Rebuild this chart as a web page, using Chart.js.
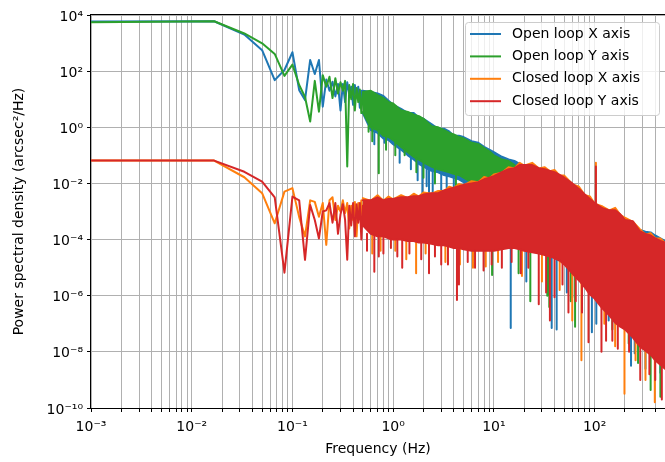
<!DOCTYPE html>
<html lang="en">
<head>
<meta charset="UTF-8">
<title>Power spectral density</title>
<script src="https://cdn.jsdelivr.net/npm/chart.js@4"></script>
<style>
  html, body { margin: 0; padding: 0; background: #fff; overflow: hidden; }
  #psdChart { display: block; }
</style>
</head>
<body>
<canvas id="psdChart" width="672" height="462"></canvas>
<script>
// low end: single FFT bins (Hz), each one visible as a corner of the line
const lowFreq = [0.001, 0.0167, 0.0333, 0.05, 0.0667, 0.0833, 0.1, 0.1167, 0.1333, 0.15, 0.1667, 0.1833, 0.2, 0.2167, 0.2333, 0.25, 0.2667, 0.2833, 0.3,
  0.3167, 0.3333, 0.35, 0.3667, 0.3833, 0.4, 0.4167, 0.4333, 0.45, 0.4667, 0.4833, 0.5];
const openXLow = [5900, 6000, 2000, 560, 48, 110, 470, 21, 9.3, 250, 79, 250, 5.4, 50, 20, 42, 12.6, 35, 4.0,
  35, 7.9, 40, 16, 28, 6.3, 32, 13, 28, 5.0, 20, 10];
const openYLow = [5500, 6000, 2200, 980, 410, 68, 170, 32, 12, 1.6, 45, 3.6, 72, 28, 63, 11, 56, 16, 40,
  20, 45, 0.04, 32, 10, 35, 4.0, 25, 7.9, 22, 3.2, 16];
const closedXLow = [0.065, 0.065, 0.0166, 0.0045, 3.8e-4, 5.1e-3, 6.8e-3, 6.3e-4, 1.3e-4, 2.5e-3, 2.2e-3, 6.5e-4, 2.0e-3, 6.5e-5, 2.5e-3, 3.2e-3, 5.0e-4, 1.6e-3, 1.0e-3,
  2.5e-3, 8.9e-4, 2.0e-3, 2.5e-4, 1.6e-3, 5.0e-4, 2.2e-3, 1.3e-4, 2.0e-3, 6.3e-4, 2.5e-3, 3.2e-4];
const closedYLow = [0.065, 0.065, 0.026, 0.0115, 3.2e-3, 6.6e-6, 3.4e-3, 2.5e-3, 1.9e-5, 1.7e-3, 5.0e-4, 1.1e-4, 1.0e-3, 1.1e-3, 2.0e-3, 4.0e-4, 2.0e-3, 1.6e-4, 7.9e-4,
  1.8e-3, 5.0e-4, 1.9e-5, 1.6e-3, 3.2e-4, 2.0e-3, 1.3e-4, 1.8e-3, 4.0e-4, 2.0e-3, 1.0e-4, 1.6e-3];

// dense part: upper and lower edge of each noisy band, read at these frequencies
const bandFreq = [0.5, 0.6, 0.7, 0.8, 0.9, 1, 1.2, 1.4, 1.6, 1.8, 2, 2.4, 2.8, 3.2, 3.6, 4, 4.5, 5, 6, 7, 8, 9, 10, 12, 14, 16, 18, 20, 24, 28, 32, 36, 40, 45, 50, 60, 70, 80, 90, 100, 120, 140, 160, 180, 200, 240, 280, 320, 360, 400, 450, 500];
const openXTop = [20, 18, 16, 13, 8.9, 6.3, 4.5, 3.2, 3.2, 2.2, 2.0, 1.3, 0.89, 0.89, 0.71, 0.5, 0.5, 0.45, 0.32, 0.28, 0.2, 0.16, 0.13, 0.089, 0.071, 0.063, 0.05, 0.035, 0.025, 0.018, 0.014, 0.013, 0.01, 7.9e-3, 6.3e-3, 5.0e-3, 3.5e-3, 2.8e-3, 2.2e-3, 1.8e-3, 1.1e-3, 8.9e-4, 7.1e-4, 5.6e-4, 4.5e-4, 3.2e-4, 2.2e-4, 1.9e-4, 1.8e-4, 1.4e-4, 1.1e-4, 8.9e-5];
const openXBottom = [3.2, 0.79, 0.63, 0.4, 0.35, 0.25, 0.16, 0.1, 0.071, 0.05, 0.04, 0.028, 0.025, 0.02, 0.018, 0.016, 0.014, 0.011, 7.9e-3, 6.3e-3, 4.5e-3, 3.2e-3, 2.0e-3, 7.9e-4, 4.0e-4, 2.0e-4, 1.3e-4, 7.9e-5, 5.6e-5, 4.5e-5, 3.5e-5, 2.8e-5, 2.2e-5, 1.8e-5, 1.4e-5, 8.9e-6, 5.6e-6, 3.5e-6, 2.2e-6, 1.4e-6, 8.9e-7, 5.6e-7, 3.5e-7, 2.2e-7, 1.4e-7, 8.9e-8, 5.6e-8, 3.5e-8, 2.2e-8, 1.4e-8, 8.9e-9, 5.6e-9];
const openYTop = [18, 20, 14, 11, 7.9, 7.1, 4.0, 3.5, 2.8, 2.5, 2.0, 1.1, 1.0, 0.79, 0.63, 0.56, 0.45, 0.4, 0.28, 0.25, 0.18, 0.14, 0.1, 0.071, 0.063, 0.045, 0.035, 0.028, 0.02, 0.016, 0.013, 0.011, 8.9e-3, 7.1e-3, 6.3e-3, 4.5e-3, 3.2e-3, 2.5e-3, 2.0e-3, 1.6e-3, 1.0e-3, 7.9e-4, 6.3e-4, 5.0e-4, 4.0e-4, 2.8e-4, 2.0e-4, 1.6e-4, 1.4e-4, 1.1e-4, 8.9e-5, 7.1e-5];
const openYBottom = [3.5, 1.0, 0.79, 0.5, 0.45, 0.35, 0.2, 0.13, 0.089, 0.071, 0.056, 0.04, 0.032, 0.028, 0.025, 0.022, 0.02, 0.016, 0.011, 8.9e-3, 6.3e-3, 4.0e-3, 2.5e-3, 1.0e-3, 5.0e-4, 2.5e-4, 1.6e-4, 1.0e-4, 6.3e-5, 5.0e-5, 4.0e-5, 3.2e-5, 2.5e-5, 2.0e-5, 1.6e-5, 1.0e-5, 6.3e-6, 4.0e-6, 2.5e-6, 1.6e-6, 1.0e-6, 6.3e-7, 4.0e-7, 2.5e-7, 1.6e-7, 1.0e-7, 6.3e-8, 4.0e-8, 2.5e-8, 1.6e-8, 1.0e-8, 6.3e-9];
const closedXTop = [3.0e-3, 2.4e-3, 3.8e-3, 2.4e-3, 3.4e-3, 2.7e-3, 3.8e-3, 3.0e-3, 4.3e-3, 3.4e-3, 4.8e-3, 4.3e-3, 5.4e-3, 5.4e-3, 7.6e-3, 6.8e-3, 9.5e-3, 8.5e-3, 0.012, 0.011, 0.017, 0.015, 0.021, 0.024, 0.038, 0.034, 0.054, 0.043, 0.054, 0.034, 0.038, 0.027, 0.030, 0.019, 0.019, 9.5e-3, 7.6e-3, 3.8e-3, 3.4e-3, 1.9e-3, 1.5e-3, 1.1e-3, 1.35e-3, 7.6e-4, 6.0e-4, 4.3e-4, 2.4e-4, 1.5e-4, 1.7e-4, 1.1e-4, 1.1e-4, 7.6e-5];
const closedXBottom = [4.0e-4, 2.0e-4, 1.6e-4, 1.6e-4, 1.4e-4, 1.3e-4, 1.3e-4, 1.1e-4, 1.1e-4, 1.0e-4, 1.0e-4, 8.9e-5, 7.9e-5, 7.9e-5, 7.1e-5, 6.3e-5, 6.3e-5, 5.6e-5, 5.0e-5, 5.0e-5, 5.0e-5, 5.0e-5, 5.0e-5, 5.6e-5, 6.3e-5, 6.3e-5, 5.6e-5, 5.0e-5, 4.5e-5, 4.0e-5, 3.5e-5, 3.2e-5, 2.8e-5, 2.2e-5, 1.6e-5, 7.9e-6, 4.5e-6, 2.5e-6, 1.4e-6, 1.0e-6, 4.5e-7, 2.5e-7, 1.4e-7, 1.0e-7, 7.9e-8, 4.0e-8, 2.0e-8, 1.4e-8, 1.0e-8, 6.3e-9, 4.5e-9, 3.2e-9];
const closedYTop = [2.5e-3, 2.5e-3, 3.2e-3, 2.5e-3, 2.8e-3, 2.8e-3, 3.2e-3, 3.2e-3, 3.5e-3, 3.5e-3, 4.0e-3, 4.5e-3, 4.5e-3, 5.6e-3, 6.3e-3, 7.1e-3, 7.9e-3, 8.9e-3, 0.01, 0.011, 0.014, 0.016, 0.018, 0.025, 0.032, 0.035, 0.045, 0.045, 0.045, 0.035, 0.032, 0.028, 0.025, 0.02, 0.016, 0.01, 6.3e-3, 4.0e-3, 2.8e-3, 2.0e-3, 1.3e-3, 1.1e-3, 1.1e-3, 7.9e-4, 5.0e-4, 4.5e-4, 2.0e-4, 1.6e-4, 1.4e-4, 1.1e-4, 8.9e-5, 7.9e-5];
const closedYBottom = [3.2e-4, 1.6e-4, 1.3e-4, 1.3e-4, 1.1e-4, 1.0e-4, 1.0e-4, 8.9e-5, 8.9e-5, 7.9e-5, 7.9e-5, 7.1e-5, 6.3e-5, 6.3e-5, 5.6e-5, 5.0e-5, 5.0e-5, 4.5e-5, 4.0e-5, 4.0e-5, 4.0e-5, 4.0e-5, 4.0e-5, 4.5e-5, 5.0e-5, 5.0e-5, 4.5e-5, 4.0e-5, 3.5e-5, 3.2e-5, 2.8e-5, 2.5e-5, 2.2e-5, 1.8e-5, 1.3e-5, 6.3e-6, 3.5e-6, 2.0e-6, 1.1e-6, 7.9e-7, 3.5e-7, 2.0e-7, 1.1e-7, 7.9e-8, 6.3e-8, 3.2e-8, 1.6e-8, 1.1e-8, 7.9e-9, 5.0e-9, 3.5e-9, 2.5e-9];

// single deep (or tall) spikes sticking out of the bands: frequency, lowest and highest value
const openXSpikeF = [0.65, 0.82, 1.16, 1.5, 1.75, 1.95, 2.15, 2.27, 2.47, 3.0, 3.4, 4.0, 5.2, 14.7, 21, 37.5, 42, 53, 60, 94, 104, 138, 230, 250, 320, 450];
const openXSpikeLo = [0.25, 0.28, 0.054, 0.032, 0.013, 3.2e-3, 7.9e-3, 4.5e-3, 2.5e-3, 5.0e-3, 7.1e-3, 4.0e-3, 5.0e-3, 7.1e-8, 3.2e-6, 7.1e-8, 6.3e-8, 1.3e-6, 8.9e-7, 5.0e-8, 1.0e-7, 1.3e-7, 3.2e-9, 8.9e-9, 2.5e-9, 1.8e-9];
const openXSpikeHi = [0.79, 0.5, 0.2, 0.1, 0.063, 0.063, 0.05, 0.04, 0.032, 0.032, 0.025, 0.016, 0.014, 5.0e-5, 5.0e-5, 2.5e-5, 2.5e-5, 1.3e-5, 7.9e-6, 1.3e-6, 7.9e-7, 3.2e-7, 5.0e-8, 4.0e-8, 1.6e-8, 5.0e-9];
const openYSpikeF = [0.57, 0.62, 0.72, 0.85, 1.05, 1.3, 1.7, 2.0, 2.6, 4.2, 9.6, 17.6, 23, 33.9, 35.5, 58, 64, 150, 218, 270, 360, 450];
const openYSpikeLo = [0.69, 0.32, 0.023, 0.16, 0.1, 0.1, 0.025, 0.016, 0.01, 6.3e-3, 5.5e-6, 6.3e-6, 6.3e-7, 1.0e-6, 4.0e-7, 6.3e-7, 7.9e-8, 6.3e-8, 2.0e-8, 4.0e-9, 4.4e-10, 2.5e-10];
const openYSpikeHi = [1.1, 1.0, 0.79, 0.45, 0.35, 0.16, 0.079, 0.05, 0.032, 0.022, 4.0e-3, 2.0e-4, 6.3e-5, 4.0e-5, 3.2e-5, 1.0e-5, 7.9e-6, 5.0e-7, 1.3e-7, 6.3e-8, 2.5e-8, 1.0e-8];
const closedXSpikeF = [0.62, 0.75, 1.05, 1.35, 1.69, 2.1, 3.3, 4.6, 6.2, 8.3, 11, 19, 30, 45, 60, 74, 103, 125, 160, 198, 255, 320, 396];
const closedXSpikeLo = [3.2e-5, 4.0e-5, 4.0e-5, 2.0e-5, 6.3e-6, 3.2e-5, 1.6e-5, 1.3e-5, 1.0e-5, 1.1e-5, 1.6e-5, 5.0e-6, 3.2e-6, 1.6e-6, 1.3e-7, 5.0e-9, 1.6e-3, 1.0e-7, 1.6e-8, 3.2e-10, 5.0e-9, 1.0e-9, 1.6e-10];
const closedXSpikeHi = [2.5e-4, 1.6e-4, 1.6e-4, 1.1e-4, 1.3e-4, 1.0e-4, 7.9e-5, 6.3e-5, 5.0e-5, 5.0e-5, 5.0e-5, 5.0e-5, 4.0e-5, 2.5e-5, 7.9e-6, 3.2e-6, 0.054, 5.0e-7, 1.4e-7, 7.9e-8, 3.2e-8, 1.4e-8, 6.3e-9];
const closedYSpikeF = [0.55, 0.65, 0.72, 0.8, 0.95, 1.1, 1.23, 1.45, 1.9, 2.27, 2.6, 3.0, 3.5, 4.3, 4.5, 5.5, 6.5, 7.9, 9.5, 12, 15, 18.5, 22, 27.9, 33, 36, 40, 48, 55, 65, 75, 87, 103, 117, 130, 150, 170, 220, 284, 350, 400, 465];
const closedYSpikeLo = [4.0e-5, 7.1e-6, 2.5e-5, 3.2e-5, 5.0e-5, 2.5e-5, 1.0e-5, 3.2e-5, 2.0e-5, 6.3e-6, 2.5e-5, 1.3e-5, 1.3e-5, 7.1e-7, 2.5e-6, 1.6e-5, 1.0e-5, 7.9e-6, 1.3e-5, 1.0e-5, 1.6e-5, 6.3e-6, 1.0e-5, 5.0e-7, 1.3e-6, 1.3e-7, 8.9e-7, 2.5e-6, 2.5e-7, 6.3e-7, 2.5e-7, 2.2e-8, 1.6e-3, 1.0e-8, 2.5e-8, 2.5e-8, 1.3e-8, 1.0e-8, 1.0e-9, 1.6e-9, 1.0e-9, 2.0e-10];
const closedYSpikeHi = [1.6e-4, 1.4e-4, 1.3e-4, 1.3e-4, 1.0e-4, 1.0e-4, 1.0e-4, 8.9e-5, 7.9e-5, 7.9e-5, 6.3e-5, 6.3e-5, 5.6e-5, 5.0e-5, 5.0e-5, 4.0e-5, 4.0e-5, 4.0e-5, 4.0e-5, 4.5e-5, 5.0e-5, 4.5e-5, 4.0e-5, 3.2e-5, 2.8e-5, 2.5e-5, 2.2e-5, 1.6e-5, 1.0e-5, 5.0e-6, 2.5e-6, 1.3e-6, 0.04, 4.0e-7, 2.5e-7, 1.3e-7, 1.0e-7, 5.0e-8, 1.6e-8, 1.0e-8, 5.0e-9, 3.2e-9];

const seriesNames = ['Open loop X axis', 'Open loop Y axis', 'Closed loop X axis', 'Closed loop Y axis'];
const seriesColors = ['#1f77b4', '#2ca02c', '#ff7f0e', '#d62728'];

const xTickValues = [1e-3, 1e-2, 1e-1, 1, 10, 100];
const xTickLabels = ['10⁻³', '10⁻²', '10⁻¹', '10⁰', '10¹', '10²'];
const yTickValues = [1e-10, 1e-8, 1e-6, 1e-4, 1e-2, 1, 100, 1e4];
const yTickLabels = ['10⁻¹⁰', '10⁻⁸', '10⁻⁶', '10⁻⁴', '10⁻²', '10⁰', '10²', '10⁴'];

const lowSets = [openXLow, openYLow, closedXLow, closedYLow];
const topSets = [openXTop, openYTop, closedXTop, closedYTop];
const bottomSets = [openXBottom, openYBottom, closedXBottom, closedYBottom];
const spikeF = [openXSpikeF, openYSpikeF, closedXSpikeF, closedYSpikeF];
const spikeLo = [openXSpikeLo, openYSpikeLo, closedXSpikeLo, closedYSpikeLo];
const spikeHi = [openXSpikeHi, openYSpikeHi, closedXSpikeHi, closedYSpikeHi];

// minor + major vertical grid lines (1..9 per decade)
const xGridValues = [];
for (let e = -3; e <= 2; e++) {
  for (let m = 1; m <= 9; m++) {
    const v = m * Math.pow(10, e);
    if (v <= 500) xGridValues.push(v);
  }
}

function labelFor(v, values, labels) {
  const i = values.findIndex(t => Math.abs(Math.log10(t) - Math.log10(v)) < 1e-6);
  return i < 0 ? '' : labels[i];
}

function lineSet(points, color) {
  return {
    data: points,
    borderColor: color,
    backgroundColor: color,
    borderWidth: 2,
    pointRadius: 0,
    borderJoinStyle: 'round',
    borderCapStyle: 'round',
    fill: false,
    tension: 0,
    spanGaps: false,
    clip: 0
  };
}

function pairs(freqs, values) {
  return freqs.map((f, i) => ({ x: f, y: values[i] }));
}

const datasets = [];
seriesNames.forEach((name, s) => {
  const color = seriesColors[s];
  datasets.push(lineSet(pairs(lowFreq, lowSets[s]), color));
  const topIndex = datasets.length;
  datasets.push(lineSet(pairs(bandFreq, topSets[s]), color));
  const bottom = lineSet(pairs(bandFreq, bottomSets[s]), color);
  bottom.fill = topIndex;
  datasets.push(bottom);
  const spikes = [];
  spikeF[s].forEach((f, i) => {
    spikes.push({ x: f, y: spikeHi[s][i] }, { x: f, y: spikeLo[s][i] }, { x: f, y: null });
  });
  datasets.push(lineSet(spikes, color));
});
// first in the list is drawn first (red ends up on top, as in the original)
datasets.forEach((d, i) => { d.order = datasets.length - i; });

const framePlugin = {
  id: 'frame',
  afterDatasetsDraw(chart) {
    const { ctx, chartArea: a } = chart;
    ctx.save();
    ctx.strokeStyle = '#000';
    ctx.lineWidth = 1;
    ctx.strokeRect(a.left - 0.5, a.top - 0.5, a.right - a.left + 1, a.bottom - a.top + 1);
    ctx.restore();
  }
};

const legendPlugin = {
  id: 'boxLegend',
  afterDraw(chart) {
    const { ctx, chartArea: a } = chart;
    const w = 194, h = 93;
    const x = a.right - 6 - w, y = a.top + 7;
    ctx.save();
    ctx.beginPath();
    ctx.roundRect(x + 0.5, y + 0.5, w, h, 3);
    ctx.fillStyle = 'rgba(255,255,255,0.8)';
    ctx.fill();
    ctx.strokeStyle = '#cccccc';
    ctx.lineWidth = 1;
    ctx.stroke();
    ctx.font = '14px "DejaVu Sans"';
    ctx.textBaseline = 'middle';
    seriesNames.forEach((name, i) => {
      const cy = y + 12 + i * 22.4;
      ctx.strokeStyle = seriesColors[i];
      ctx.lineWidth = 2;
      ctx.beginPath();
      ctx.moveTo(x + 5, cy);
      ctx.lineTo(x + 36, cy);
      ctx.stroke();
      ctx.fillStyle = '#000';
      ctx.fillText(name, x + 47, cy);
    });
    ctx.restore();
  }
};

Chart.defaults.font.family = '"DejaVu Sans", sans-serif';
Chart.defaults.font.size = 14;
Chart.defaults.color = '#000';

new Chart(document.getElementById('psdChart'), {
  type: 'line',
  data: { datasets },
  options: {
    responsive: false,
    animation: false,
    events: [],
    layout: { padding: { left: 0, top: 15, right: 4, bottom: 0 } },
    scales: {
      x: {
        type: 'logarithmic',
        min: 0.001,
        max: 500,
        afterBuildTicks: s => { s.ticks = xGridValues.map(v => ({ value: v })); },
        afterFit: s => { s.height = 54; },
        grid: { color: '#b0b0b0', lineWidth: 1, tickLength: 4, tickColor: '#000' },
        border: { display: false },
        ticks: {
          autoSkip: false, maxRotation: 0, padding: 7,
          callback: v => labelFor(v, xTickValues, xTickLabels)
        },
        title: { display: true, text: 'Frequency (Hz)', padding: { top: 4, bottom: 4 } }
      },
      y: {
        type: 'logarithmic',
        min: 1e-10,
        max: 1e4,
        afterBuildTicks: s => { s.ticks = yTickValues.map(v => ({ value: v })); },
        afterFit: s => { s.width = 91; },
        grid: { color: '#b0b0b0', lineWidth: 1, tickLength: 4, tickColor: '#000' },
        border: { display: false },
        ticks: {
          autoSkip: false, padding: 4, labelOffset: 2,
          callback: v => labelFor(v, yTickValues, yTickLabels)
        },
        title: { display: true, text: 'Power spectral density (arcsec²/Hz)', padding: { top: 11, bottom: 4 } }
      }
    },
    plugins: {
      legend: { display: false },
      tooltip: { enabled: false }
    }
  },
  plugins: [framePlugin, legendPlugin]
});
</script>
</body>
</html>
